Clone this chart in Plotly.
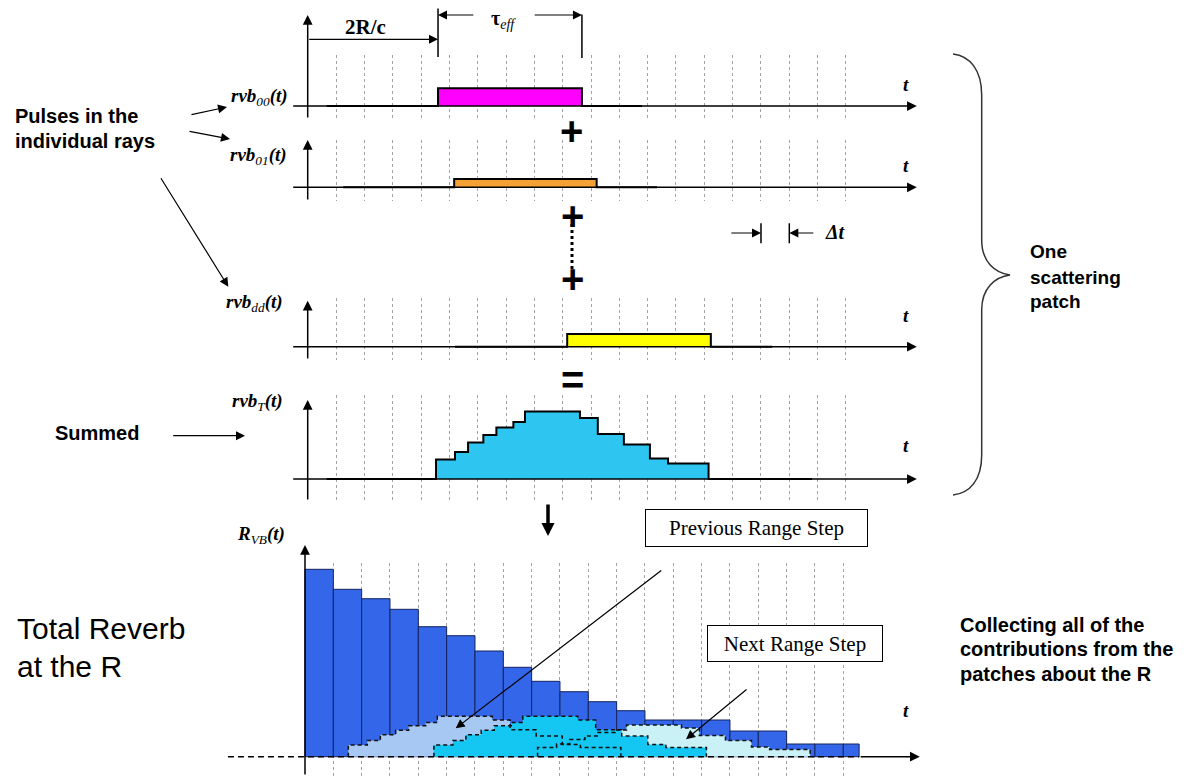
import plotly.graph_objects as go

W, H = 1193, 779
DT_PX = 28.33      # layout: pixels per time bin (delta t)
PPU = 10.0         # layout: pixels per amplitude unit

# ---------------- data ----------------
grid_t = list(range(1, 20))                      # dotted time-bin lines, in units of delta t

pulse_sub = ["00", "01", "dd"]                  # individual ray pulses
pulse_start = [4.60, 5.17, 9.16]
pulse_end = [9.68, 10.20, 14.23]
pulse_amp = [1.77, 0.83, 1.27]
pulse_lead = [0.67, 1.25, 5.20]
pulse_tail = [11.80, 12.33, 16.40]
pulse_color = ["#ff00ff", "#f4a236", "#ffff00"]

sum_edges = [4.53, 5.20, 5.66, 6.20, 6.66, 7.26, 7.67, 9.61, 10.24, 11.16, 12.08, 12.72, 14.15]
sum_levels = [1.95, 2.70, 3.65, 4.40, 5.15, 5.70, 6.75, 6.10, 4.50, 3.45, 2.05, 1.55]
sum_lead, sum_tail = 0.67, 17.80
sum_color = "#2ec5f0"

rvb_left = list(range(20))                       # total reverb R_VB(t)
rvb_width = [1.0] * 19 + [0.56]
rvb_height = [18.74, 16.74, 15.80, 14.74, 13.00, 12.10, 10.57, 8.94, 7.54, 6.50,
              5.50, 4.60, 3.67, 3.67, 3.67, 2.57, 2.57, 1.27, 1.27, 1.27]
rvb_color = "#3366e8"

patch_shift = [-3.00, 0.02, 3.68]                # patch contributions (previous, current, next)
patch_scale = [0.60, 0.60, 0.47]
patch_color = ["#a6c8f2", "#14c6f2", "#caf2f6"]
patch_draw_order = [0, 2, 1]

reverb_axis_left = -2.72
reverb_axis_solid_from = 19.56
delta_t_marks = [16, 17]

# ---------------- layout of the five panels (pixels) ----------------
PANELS = [
    dict(t0=307.7, tr=(-0.6, 21.7), base=106.0, gtop=55, gbot=119, atop=15, abot=119, ax0=-0.565, ax1=21.5, tlab=71.7),
    dict(t0=307.7, tr=(-0.6, 21.7), base=187.3, gtop=140, gbot=201, atop=140, abot=201, ax0=-0.565, ax1=21.5, tlab=153.3),
    dict(t0=307.7, tr=(-0.6, 21.7), base=346.7, gtop=298, gbot=360, atop=300.7, abot=360, ax0=-0.565, ax1=21.5, tlab=315.0),
    dict(t0=307.7, tr=(-0.6, 21.7), base=479.0, gtop=395, gbot=501, atop=400, abot=501, ax0=-0.565, ax1=21.5, tlab=445.0),
    dict(t0=305.0, tr=(-2.9, 21.9), base=756.7, gtop=563, gbot=776, atop=545, abot=776, ax0=reverb_axis_solid_from, ax1=21.7, tlab=722.7),
]

SANS = "Liberation Sans, Arial, sans-serif"
SERIF = "Liberation Serif, Times New Roman, serif"


def PX(x):
    return x / W


def PY(y):
    return 1 - y / H


def xr(i):
    return "x" if i == 1 else f"x{i}"


def yr(i):
    return "y" if i == 1 else f"y{i}"


fig = go.Figure()
ann = []
shapes = []

axes_layout = {}
for i, p in enumerate(PANELS, 1):
    xname = "xaxis" if i == 1 else f"xaxis{i}"
    yname = "yaxis" if i == 1 else f"yaxis{i}"
    axes_layout[xname] = dict(
        domain=[PX(p["t0"] + p["tr"][0] * DT_PX), PX(p["t0"] + p["tr"][1] * DT_PX)],
        range=list(p["tr"]), anchor=yr(i), tickmode="array", tickvals=grid_t,
        showticklabels=False, ticks="", showgrid=True, gridcolor="#a3a3a3",
        griddash="dot", gridwidth=1, zeroline=False, showline=False, fixedrange=True)
    axes_layout[yname] = dict(
        domain=[PY(p["gbot"]), PY(p["gtop"])],
        range=[(p["base"] - p["gbot"]) / PPU, (p["base"] - p["gtop"]) / PPU],
        anchor=xr(i), visible=False, fixedrange=True)

    # horizontal time axis with arrow
    ann.append(dict(x=p["ax1"], y=PY(p["base"]), xref=xr(i), yref="paper",
                    ax=p["ax0"], axref=xr(i), ay=0, ayref="pixel", text="",
                    showarrow=True, arrowhead=2, arrowsize=1.3, arrowwidth=1.5,
                    arrowcolor="black", standoff=0, startstandoff=0))
    # vertical amplitude axis with arrow
    ann.append(dict(x=0, y=PY(p["atop"]), xref=xr(i), yref="paper",
                    ax=0, ay=p["abot"] - p["atop"], axref="pixel", ayref="pixel", text="",
                    showarrow=True, arrowhead=2, arrowsize=1.3, arrowwidth=1.5,
                    arrowcolor="black", standoff=0, startstandoff=0))
    # 't' label
    ann.append(dict(x=PX(911), y=PY(p["tlab"]), xref="paper", yref="paper",
                    text="<b><i>t</i></b>", showarrow=False,
                    font=dict(family=SERIF, size=19, color="black")))

fig.update_layout(**axes_layout)

# ---------------- individual pulses ----------------
for k in range(3):
    s, e, a = pulse_start[k], pulse_end[k], pulse_amp[k]
    fig.add_trace(go.Scatter(
        x=[pulse_lead[k], s, s, e, e, pulse_tail[k]], y=[0, 0, a, a, 0, 0],
        mode="lines", fill="tozeroy", fillcolor=pulse_color[k],
        line=dict(color="black", width=2), xaxis=xr(k + 1), yaxis=yr(k + 1),
        hoverinfo="skip"))

# ---------------- summed pulse ----------------
fig.add_trace(go.Scatter(
    x=[sum_lead] + sum_edges + [sum_tail], y=[0] + sum_levels + [0, 0],
    mode="lines", line_shape="hv", fill="tozeroy", fillcolor=sum_color,
    line=dict(color="black", width=2), xaxis="x4", yaxis="y4", hoverinfo="skip"))

# ---------------- total reverb ----------------
fig.add_trace(go.Bar(
    x=[l + w / 2 for l, w in zip(rvb_left, rvb_width)], y=rvb_height, width=rvb_width,
    marker=dict(color=rvb_color, line=dict(color="#16245e", width=1)),
    xaxis="x5", yaxis="y5", hoverinfo="skip"))

patch_x = [[sum_edges[0] + sh] + [e + sh for e in sum_edges] for sh in patch_shift]
patch_y = [[0] + [l * sc for l in sum_levels] + [0] for sc in patch_scale]
for k in patch_draw_order:
    fig.add_trace(go.Scatter(
        x=patch_x[k], y=patch_y[k], mode="lines", line_shape="hv", fill="tozeroy",
        fillcolor=patch_color[k], line=dict(width=0), xaxis="x5", yaxis="y5",
        hoverinfo="skip"))
for k in patch_draw_order:
    fig.add_trace(go.Scatter(
        x=patch_x[k], y=patch_y[k], mode="lines", line_shape="hv",
        line=dict(color="#111111", width=1.5, dash="4px,3px"),
        xaxis="x5", yaxis="y5", hoverinfo="skip"))

fig.add_trace(go.Scatter(
    x=[reverb_axis_left, reverb_axis_solid_from], y=[0, 0], mode="lines",
    line=dict(color="black", width=1.5, dash="6px,4px"), xaxis="x5", yaxis="y5",
    hoverinfo="skip"))


# ---------------- annotations ----------------
def label(x, y, s, size, family=SANS, xanchor="center", yanchor="middle"):
    ann.append(dict(x=PX(x), y=PY(y), xref="paper", yref="paper", text=s,
                    showarrow=False, xanchor=xanchor, yanchor=yanchor,
                    font=dict(family=family, size=size, color="black")))


def arrow(x0, y0, x1, y1, width=1.2, head=2, size=1.5):
    ann.append(dict(x=PX(x1), y=PY(y1), xref="paper", yref="paper", ax=x0 - x1, ay=y0 - y1,
                    axref="pixel", ayref="pixel", text="", showarrow=True, arrowhead=head,
                    arrowsize=size, arrowwidth=width, arrowcolor="black",
                    standoff=0, startstandoff=0))


def data_arrow(i, x_tip, y_px, x_tail=None, dy=0, head=2, width=1.2, size=1.5):
    d = dict(x=x_tip, y=PY(y_px), xref=xr(i), yref="paper", text="", showarrow=True,
             arrowhead=head, arrowsize=size, arrowwidth=width, arrowcolor="black",
             standoff=0, startstandoff=0, ayref="pixel", ay=dy)
    if x_tail is None:
        d.update(ax=0, axref="pixel")
    else:
        d.update(ax=x_tail, axref=xr(i))
    ann.append(d)


# channel labels
label(290, 96.7, "<b><i>rvb</i></b><i><sub>00</sub></i><b><i>(t)</i></b>", 19, SERIF, "right")
label(289, 156, "<b><i>rvb</i></b><i><sub>01</sub></i><b><i>(t)</i></b>", 19, SERIF, "right")
label(285, 302.5, "<b><i>rvb</i></b><i><sub>dd</sub></i><b><i>(t)</i></b>", 19, SERIF, "right")
label(285, 401.7, "<b><i>rvb</i></b><i><sub>T</sub></i><b><i>(t)</i></b>", 19, SERIF, "right")
label(287, 535, "<b><i>R</i></b><i><sub>VB</sub></i><b><i>(t)</i></b>", 19, SERIF, "right")

# 2R/c and tau_eff
label(365, 26.7, "<b>2R/c</b>", 21, SERIF)
data_arrow(1, pulse_start[0], 39.3, x_tail=0)
data_arrow(1, pulse_start[0], 57, dy=-50, head=0, width=1.5)
data_arrow(1, pulse_end[0], 58, dy=-45, head=0, width=1.5)
data_arrow(1, pulse_start[0], 15, x_tail=5.9)
data_arrow(1, pulse_end[0], 15, x_tail=7.96)
label(503, 19, "<b>τ</b><i><sub>eff</sub></i>", 20, SERIF)

# delta t marker
for m in delta_t_marks:
    data_arrow(2, m, 243.3, dy=-21.6, head=0, width=1.5)
data_arrow(2, delta_t_marks[0], 233, dy=0, x_tail=delta_t_marks[0] - 1.1)
data_arrow(2, delta_t_marks[1], 233, dy=0, x_tail=delta_t_marks[1] + 0.9)
label(835, 232, "<b><i>Δt</i></b>", 20, SERIF)

# plus / equals signs
label(571, 131, "<b>+</b>", 40, SANS)
label(572, 216, "<b>+</b>", 40, SANS)
label(572, 279, "<b>+</b>", 40, SANS)
label(572, 380, "<b>=</b>", 40, SANS)
shapes.append(dict(type="line", xref="paper", yref="paper", x0=PX(572), x1=PX(572),
                   y0=PY(224), y1=PY(269), line=dict(color="black", width=3, dash="dot")))

# big down arrow
arrow(548, 503, 548, 536, width=3.5, head=2, size=0.75)

# left texts
label(13, 116, "<b>Pulses in the</b>", 20, SANS, "left")
label(13, 140.7, "<b>individual rays</b>", 20, SANS, "left")
arrow(190, 115, 227, 107)
arrow(188, 131, 230, 139)
arrow(160, 176.7, 228.3, 286.7)
label(53, 433.3, "<b>Summed</b>", 20, SANS, "left")
arrow(171.7, 435.7, 245, 435.7)
label(15, 628.3, "Total Reverb", 30, SANS, "left")
label(15, 666.7, "at the R", 30, SANS, "left")

# right texts
label(1028, 251.7, "<b>One</b>", 19, SANS, "left")
label(1028, 277.3, "<b>scattering</b>", 19, SANS, "left")
label(1028, 301.7, "<b>patch</b>", 19, SANS, "left")
label(958, 625, "<b>Collecting all of the</b>", 20, SANS, "left")
label(958, 649.3, "<b>contributions from the</b>", 20, SANS, "left")
label(958, 674, "<b>patches about the R</b>", 20, SANS, "left")

# curly brace
pts = [(953, 54), (970, 56), (981.7, 70), (981.7, 95), (981.7, 240), (981.7, 262), (995, 273),
       (1010, 275), (995, 277), (981.7, 288), (981.7, 310), (981.7, 455), (981.7, 480),
       (970, 493), (953, 495)]
P = [f"{PX(x):.5f},{PY(y):.5f}" for x, y in pts]
path = (f"M {P[0]} C {P[1]} {P[2]} {P[3]} L {P[4]} C {P[5]} {P[6]} {P[7]} "
        f"C {P[8]} {P[9]} {P[10]} L {P[11]} C {P[12]} {P[13]} {P[14]}")
shapes.append(dict(type="path", xref="paper", yref="paper", path=path,
                   line=dict(color="#333333", width=1.5)))

# range step call-outs
ann.append(dict(x=PX(756.5), y=PY(546.5), xref="paper", yref="paper", text="Previous Range Step",
                showarrow=False, font=dict(family=SERIF, size=21, color="black"),
                bordercolor="black", borderwidth=1, bgcolor="white", width=219, height=34,
                borderpad=1))
ann.append(dict(x=PX(794.7), y=PY(662), xref="paper", yref="paper", text="Next Range Step",
                showarrow=False, font=dict(family=SERIF, size=21, color="black"),
                bordercolor="black", borderwidth=1, bgcolor="white", width=172, height=33,
                borderpad=1))
ann.append(dict(x=5.32, y=2.84, xref="x5", yref="y5", ax=207, ay=-159, axref="pixel",
                ayref="pixel", text="", showarrow=True, arrowhead=2, arrowsize=1.5,
                arrowwidth=1.2, arrowcolor="black", standoff=0, startstandoff=0))
ann.append(dict(x=13.45, y=1.74, xref="x5", yref="y5", ax=62, ay=-51, axref="pixel",
                ayref="pixel", text="", showarrow=True, arrowhead=2, arrowsize=1.5,
                arrowwidth=1.2, arrowcolor="black", standoff=0, startstandoff=0))

fig.update_layout(
    width=W, height=H, autosize=False, margin=dict(l=0, r=0, t=0, b=0),
    paper_bgcolor="white", plot_bgcolor="rgba(0,0,0,0)", showlegend=False,
    annotations=ann, shapes=shapes, barmode="overlay")

fig.write_html("out.html", config={"displayModeBar": False},
               post_script="document.body.style.margin='0px';document.body.style.overflow='hidden';")
